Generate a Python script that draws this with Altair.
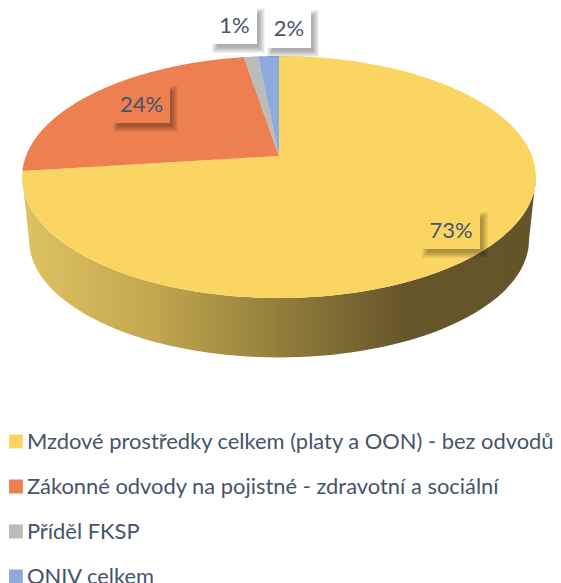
import math
import altair as alt
import pandas as pd

# ---- values
categories = [
    "Mzdové prostředky celkem (platy a OON) - bez odvodů",
    "Zákonné odvody na pojistné - zdravotní a sociální",
    "Příděl FKSP",
    "ONIV celkem",
]
shares = [73.0, 24.4, 1.05, 1.55]
share_labels = ["73%", "24%", "1%", "2%"]
colors = ["#FBD561", "#EE7F50", "#BBBBBB", "#8EA9DB"]

# ---- layout
CX, CY, SX, SY, K = 279.0, 156.0, 253.0, 117.4, 0.1736
RIM_R, RIM_DY, RIM_YR = 0.973, 63.0, 0.97
ELL_CY = 177.0
label_boxes = [(422, 480, 212, 249), (113, 170, 86, 123), (212, 257, 8, 44), (267, 311, 10, 48)]
box_fill = ["#FBD561", "#EE7F50", "#FFFFFF", "#FFFFFF"]
INK = "#44546A"
FONT = "Lato"


def project(theta):
    u, v = math.sin(theta), math.cos(theta)
    w = 1 + K * v
    return CX + SX * u / w, CY - SY * v / w


# wedges
rows = []
acc = 0.0
for cat, s in zip(categories, shares):
    a0, a1 = acc, acc + s
    acc = a1
    n = max(4, int(s * 3))
    i = 0
    rows.append(dict(cat=cat, px=CX, py=CY, i=i))
    for j in range(n + 1):
        i += 1
        x, y = project((a0 + (a1 - a0) * j / n) / 100 * 2 * math.pi)
        rows.append(dict(cat=cat, px=x, py=y, i=i))
wedges = pd.DataFrame(rows)

# rim
rim_rows = []
arc = [project(math.radians(d)) for d in range(100, 261, 2)]
for x, y in arc:
    rim_rows.append(dict(px=x, py=y, i=len(rim_rows)))
for x, y in reversed(arc):
    rim_rows.append(dict(px=CX + RIM_R * (x - CX), py=ELL_CY + RIM_DY + RIM_YR * (y - ELL_CY), i=len(rim_rows)))
rim = pd.DataFrame(rim_rows)

# label boxes + soft shadows
boxes = pd.DataFrame(
    [dict(x0=b[0], x1=b[1], y0=b[2], y1=b[3], fill=f, lab=l, cx=(b[0] + b[1]) / 2, cy=(b[2] + b[3]) / 2)
     for b, f, l in zip(label_boxes, box_fill, share_labels)]
)
shadow_rows = []
for b in label_boxes:
    for grow in (4, 3, 2, 1, 0, -1, -2):
        shadow_rows.append(dict(x0=b[0] + 4 - grow, x1=b[1] + 4 + grow, y0=b[2] + 4 - grow, y1=b[3] + 5 + grow))
shadows = pd.DataFrame(shadow_rows)

xs = alt.Scale(domain=[8, 553], nice=False, zero=False)
ys = alt.Scale(domain=[583, 8], nice=False, zero=False)
x_enc = alt.X("px:Q", scale=xs, axis=None)
y_enc = alt.Y("py:Q", scale=ys, axis=None)

rim_grad = alt.Gradient(
    gradient="linear", x1=0, y1=0, x2=1, y2=0,
    stops=[
        alt.GradientStop(color="#DFC261", offset=0),
        alt.GradientStop(color="#C4A84F", offset=0.25),
        alt.GradientStop(color="#8F7B3A", offset=0.52),
        alt.GradientStop(color="#65552B", offset=0.75),
        alt.GradientStop(color="#64542A", offset=1),
    ],
)

rim_layer = alt.Chart(rim).mark_line(fill=rim_grad, strokeOpacity=0).encode(
    x=x_enc, y=y_enc, order=alt.Order("i:Q")
)

wedge_layer = alt.Chart(wedges).mark_line(strokeOpacity=0).encode(
    x=x_enc,
    y=y_enc,
    order=alt.Order("i:Q"),
    fill=alt.Fill(
        "cat:N",
        scale=alt.Scale(domain=categories, range=colors),
        sort=categories,
        legend=alt.Legend(
            title=None, orient="none", legendX=-3, legendY=411,
            symbolType="square", symbolSize=190, symbolStrokeWidth=0,
            labelFont=FONT, labelFontSize=21.9, labelColor=INK, labelLimit=600,
            labelOffset=0, clipHeight=45, rowPadding=0, padding=0, columns=1,
        ),
    ),
)

shadow_layer = alt.Chart(shadows).mark_rect(color="#000000", opacity=0.05).encode(
    x=alt.X("x0:Q", scale=xs, axis=None), x2="x1:Q",
    y=alt.Y("y0:Q", scale=ys, axis=None), y2="y1:Q",
)
box_layer = alt.Chart(boxes).mark_rect().encode(
    x=alt.X("x0:Q", scale=xs, axis=None), x2="x1:Q",
    y=alt.Y("y0:Q", scale=ys, axis=None), y2="y1:Q",
    fill=alt.Fill("fill:N", scale=None),
)
text_layer = alt.Chart(boxes).mark_text(font=FONT, fontSize=22, color=INK).encode(
    x=alt.X("cx:Q", scale=xs, axis=None),
    y=alt.Y("cy:Q", scale=ys, axis=None),
    text="lab:N",
)

chart = (
    alt.layer(rim_layer, wedge_layer, shadow_layer, box_layer, text_layer)
    .resolve_scale(fill="independent")
    .properties(width=545, height=575, padding=0, autosize=alt.AutoSizeParams(type="none"))
    .configure_view(stroke=None)
)
chart.save("out.html", embed_options={"renderer": "svg", "actions": False})
